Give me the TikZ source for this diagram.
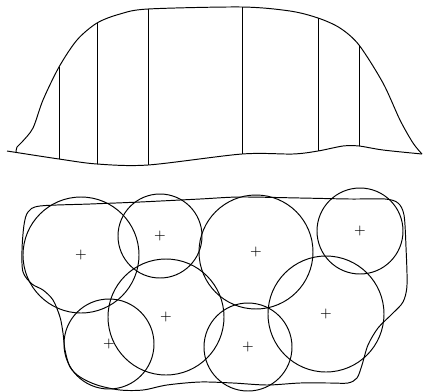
\documentclass[tikz,border=0pt]{standalone}
\usetikzlibrary{positioning}

\begin{document}
\begin{tikzpicture}
[
    x=0.2mm, y=-0.2mm,
    line width=0.55pt,
    zone/.style={draw, circle, inner sep=0pt, minimum size=#1*0.4mm,
        font=\fontsize{8}{8}\selectfont},
    rod/.style={draw}
]
    \useasboundingbox (0,0) rectangle (423,391);

    % upper figure
    \begin{scope}
        \draw plot[smooth] coordinates {(7,151) (59,159) (97,164) (148,165)
            (242,154) (293,154) (318,151) (343,146) (359,146) (383,150) (422,154)};
        \draw plot[smooth] coordinates {(16,152) (17,147) (22,142) (33,128)
            (43,100) (59,67) (77,40) (97,23) (120,14) (148,9) (242,7) (290,11)
            (318,18) (340,28) (359,45) (383,83) (400,120) (413,143) (422,154)};
        \foreach \x/\top/\bot in {59/67/159, 97/23/164, 148/9/165,
                                  242/7/154, 318/18/151, 359/45/146}
            \draw[rod] (\x,\top) -- (\x,\bot);
    \end{scope}

    % lower figure
    \begin{scope}
        \draw plot[smooth cycle] coordinates {(28,212) (40,206) (90,204)
            (140,202) (200,199) (240,197) (300,198) (350,199) (385,199)
            (398,203) (404,215) (406,247) (407,285) (403,302) (392,314)
            (378,328) (368,345) (362,365) (357,378) (348,383) (330,383)
            (300,383) (267,385) (233,383) (200,382) (167,385) (143,390)
            (120,390) (97,385) (80,377) (70,367) (65,350) (63,333) (60,317)
            (53,300) (43,290) (32,284) (23,272) (22,250) (24,225)};

        \node [zone=58] (c1) at (81,255) {+};
        \node [zone=42] (c2) at (160,236) {+};
        \node [zone=57] (c3) at (256,252) {+};
        \node [zone=43] (c4) at (360,231) {+};
        \node [zone=58] (c5) at (166,317) {+};
        \node [zone=45] (c6) at (109,344) {+};
        \node [zone=44] (c7) at (248,347) {+};
        \node [zone=58] (c8) at (326,314) {+};
    \end{scope}
\end{tikzpicture}
\end{document}
